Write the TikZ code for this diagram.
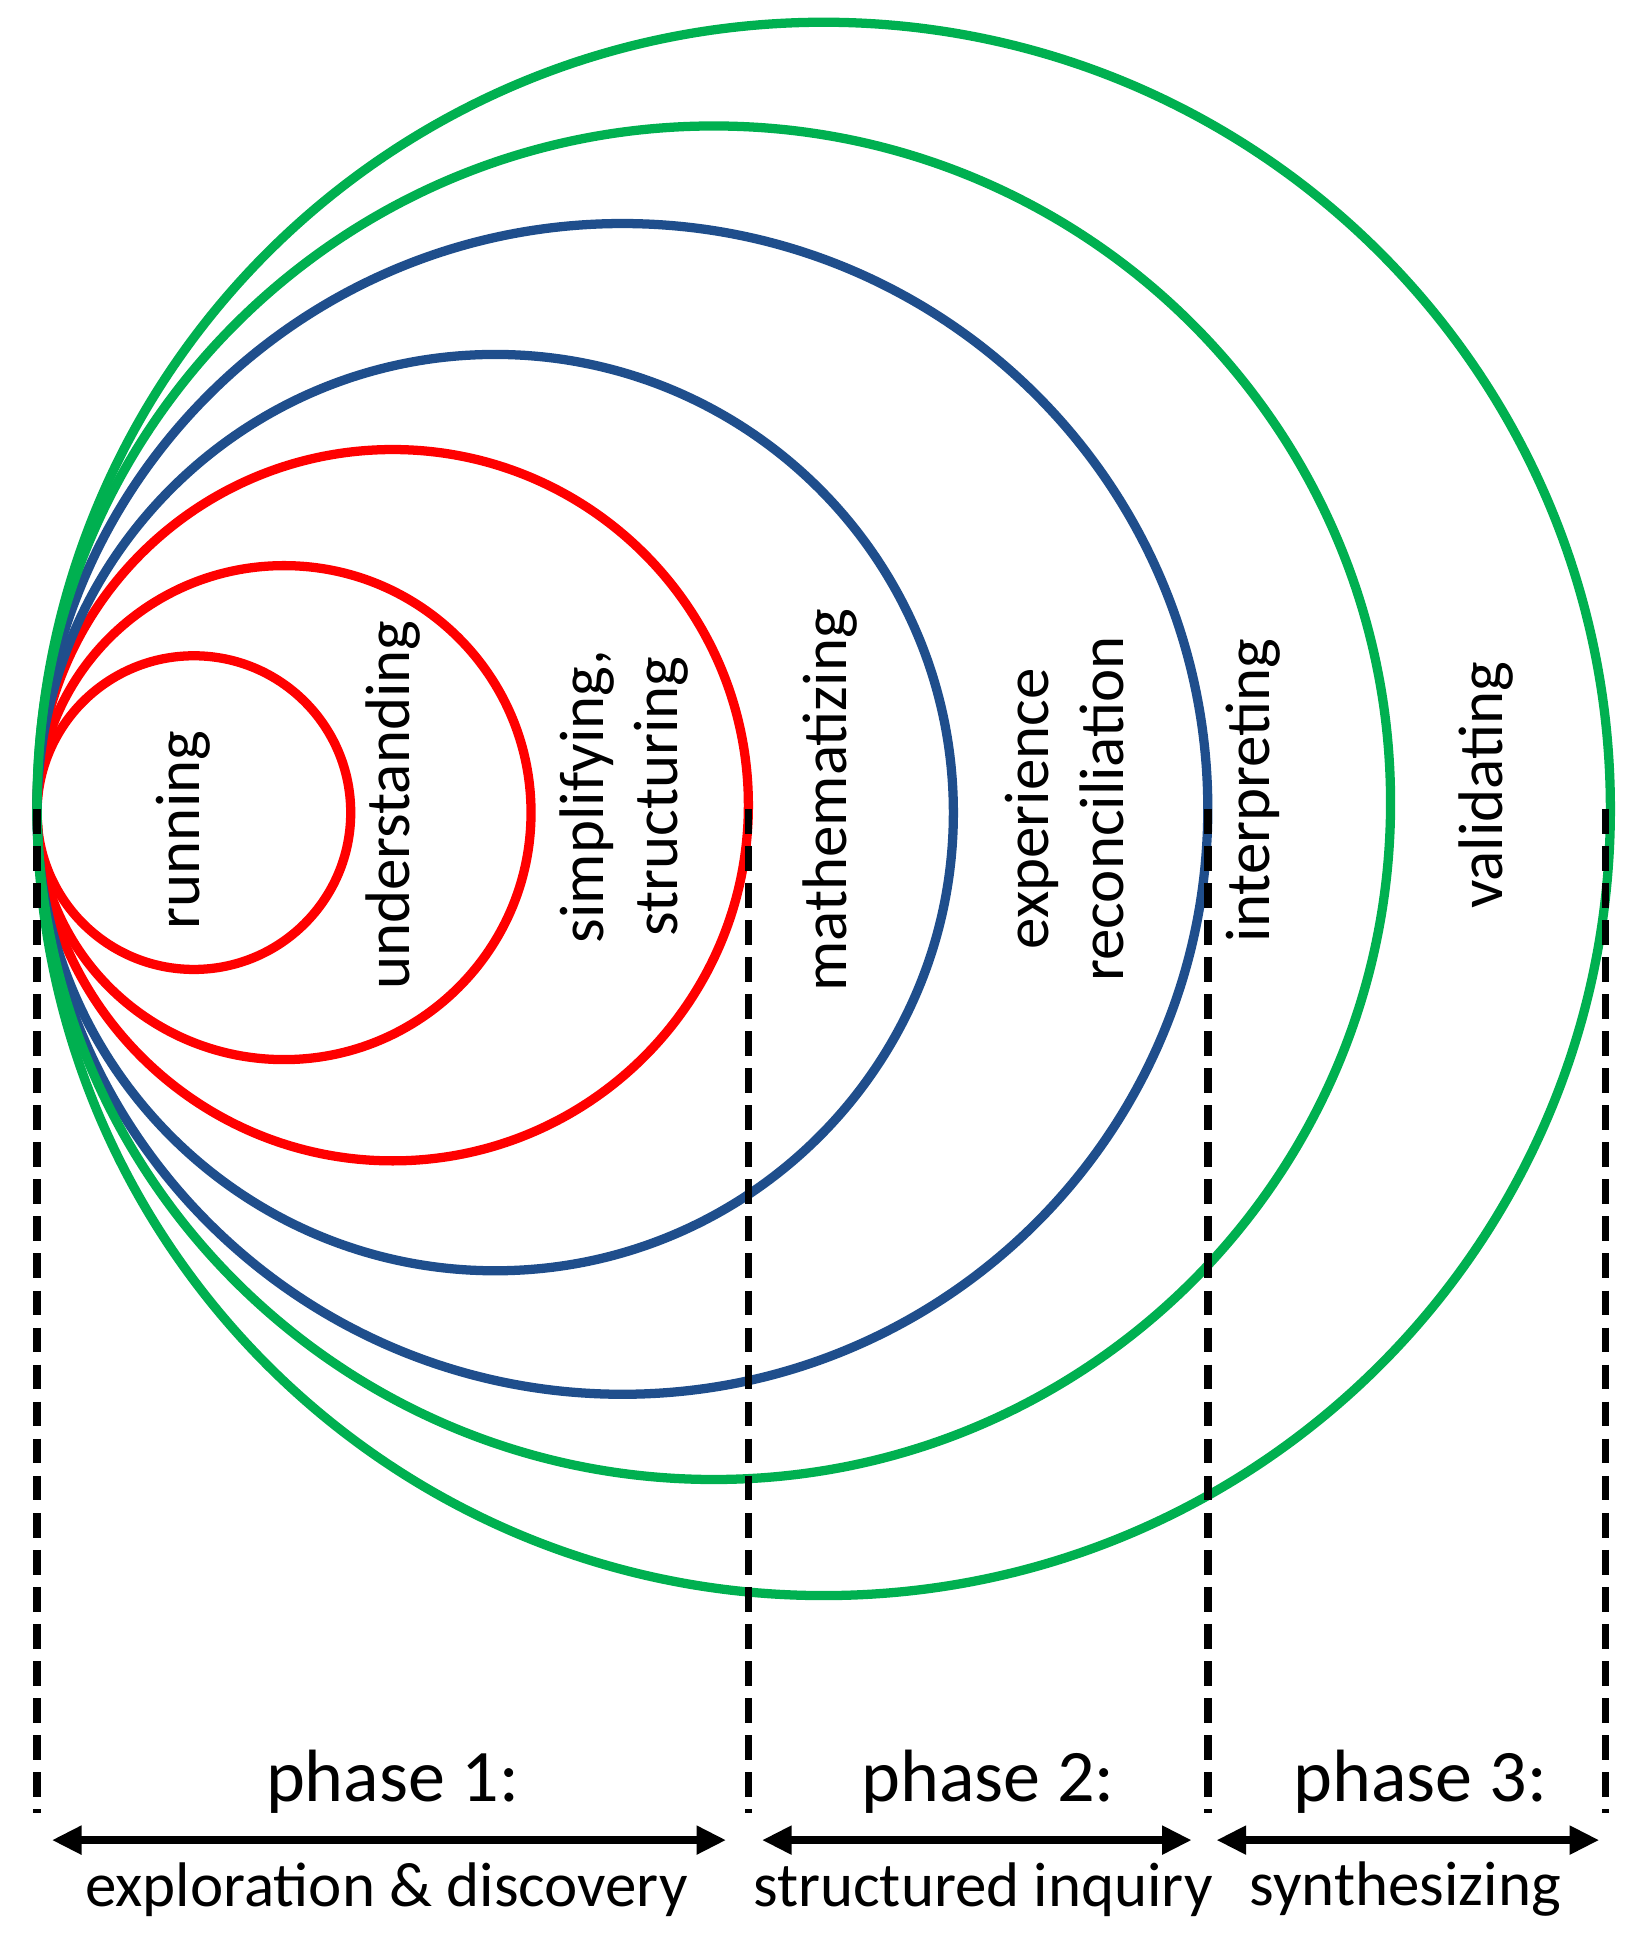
\documentclass[tikz,border=0pt]{standalone}
\usepackage{fontspec}
\setmainfont{Carlito}
\usetikzlibrary{arrows.meta}
\definecolor{cred}{HTML}{FF0000}
\definecolor{cblue}{HTML}{1F4E8C}
\definecolor{cgreen}{HTML}{00B050}
\begin{document}
\begin{tikzpicture}[x=1pt,y=-1pt,
  ring/.style={line width=7.5pt},
  dashln/.style={line width=6pt,dash pattern=on 20pt off 10pt},
  arr/.style={line width=6pt,{Triangle[length=24pt,width=22pt]}-{Triangle[length=24pt,width=22pt]}},
  lab/.style={rotate=90,font=\fontsize{51}{60}\selectfont,align=center},
  ph/.style={font=\fontsize{60}{62}\selectfont},
  sub/.style={font=\fontsize{51}{54}\selectfont}]
\useasboundingbox (0,0) rectangle (1330,1579);
\draw[ring,cred] (157,658) circle (127);
\draw[ring,cred] (230,658) circle (200);
\draw[ring,cred] (318,652) circle (288);
\draw[ring,cblue] (401,658) circle (371);
\draw[ring,cblue] (504,655) circle (474);
\draw[ring,cgreen] (578,650) circle (548);
\draw[ring,cgreen] (667,655) circle (637);
\coordinate (d1t) at (30,655); \coordinate (d1b) at (30,1468);
\coordinate (d2t) at (606,655); \coordinate (d2b) at (606,1468);
\coordinate (d3t) at (978,655); \coordinate (d3b) at (978,1468);
\coordinate (d4t) at (1300,655); \coordinate (d4b) at (1300,1468);
\draw[dashln] (d1t)--(d1b); \draw[dashln] (d2t)--(d2b);
\draw[dashln] (d3t)--(d3b); \draw[dashln] (d4t)--(d4b);
\coordinate (a1l) at (42,1490); \coordinate (a1r) at (588,1490);
\coordinate (a2l) at (617,1490); \coordinate (a2r) at (965,1490);
\coordinate (a3l) at (985,1490); \coordinate (a3r) at (1295,1490);
\draw[arr] (a1l)--(a1r); \draw[arr] (a2l)--(a2r); \draw[arr] (a3l)--(a3r);
\node[lab] (l1) at (148,672) {running};
\node[lab] (l2) at (318,652) {understanding};
\node[lab] (l3) at (505,645) {simplifying,\\structuring};
\node[lab] (l4) at (672,648) {mathematizing};
\node[lab] (l5) at (862,655) {experience\\reconciliation};
\node[lab] (l6) at (1015,640) {interpreting};
\node[lab] (l7) at (1203,636) {validating};
\node[ph] (p1) at (318,1443) {phase 1:};
\node[ph] (p2) at (800,1443) {phase 2:};
\node[ph] (p3) at (1150,1443) {phase 3:};
\node[sub] (s1) at (313,1530) {exploration \& discovery};
\node[sub] (s2) at (796,1530) {structured inquiry};
\node[sub] (s3) at (1138,1530) {synthesizing};
\end{tikzpicture}
\end{document}
